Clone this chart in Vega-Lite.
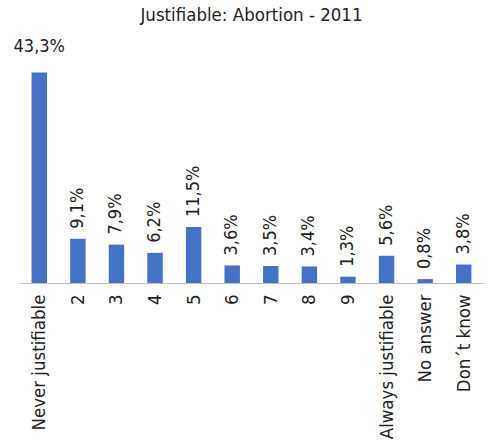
{
  "$schema": "https://vega.github.io/schema/vega-lite/v6.json",
  "autosize": "none",
  "width": 463,
  "height": 243,
  "padding": {"left": 20, "top": 40, "right": 6, "bottom": 164},
  "background": "white",
  "title": {"text": "Justifiable: Abortion - 2011", "font": "DejaVu Sans Condensed", "fontSize": 18.5, "fontWeight": "normal", "color": "#222222", "offset": 13, "anchor": "middle"},
  "config": {
    "view": {"stroke": null},
    "locale": {"number": {"decimal": ",", "thousands": ".", "grouping": [3], "currency": ["", " €"]}}
  },
  "data": {"values": [
    {"cat": "Never justifiable", "value": 0.433},
    {"cat": "2", "value": 0.091},
    {"cat": "3", "value": 0.079},
    {"cat": "4", "value": 0.062},
    {"cat": "5", "value": 0.115},
    {"cat": "6", "value": 0.036},
    {"cat": "7", "value": 0.035},
    {"cat": "8", "value": 0.034},
    {"cat": "9", "value": 0.013},
    {"cat": "Always justifiable", "value": 0.056},
    {"cat": "No answer", "value": 0.008},
    {"cat": "Don´t know", "value": 0.038}
  ]},
  "encoding": {
    "x": {"field": "cat", "type": "nominal", "sort": null,
      "scale": {"paddingInner": 0.6, "paddingOuter": 0.3},
      "axis": {"title": null, "ticks": false, "domainColor": "#bfbfbf", "domainWidth": 1, "labelAngle": -90, "labelAlign": "right", "labelBaseline": "middle", "labelPadding": 11, "labelFont": "DejaVu Sans Condensed", "labelFontSize": 18.5, "labelColor": "#222222", "grid": false}},
    "y": {"field": "value", "type": "quantitative", "scale": {"domain": [0, 0.5]}, "axis": null}
  },
  "layer": [
    {"mark": {"type": "bar", "color": "#4472C4"}},
    {"transform": [{"filter": "datum.cat === 'Never justifiable'"}],
     "mark": {"type": "text", "font": "DejaVu Sans Condensed", "fontSize": 18, "color": "#222222", "dy": -21, "baseline": "alphabetic", "align": "center"},
     "encoding": {"text": {"field": "value", "type": "quantitative", "format": ".1%"}}},
    {"transform": [{"filter": "datum.cat !== 'Never justifiable'"}],
     "mark": {"type": "text", "font": "DejaVu Sans Condensed", "fontSize": 18, "color": "#222222", "angle": -90, "align": "left", "baseline": "middle", "dx": 10},
     "encoding": {"text": {"field": "value", "type": "quantitative", "format": ".1%"}}}
  ]
}
